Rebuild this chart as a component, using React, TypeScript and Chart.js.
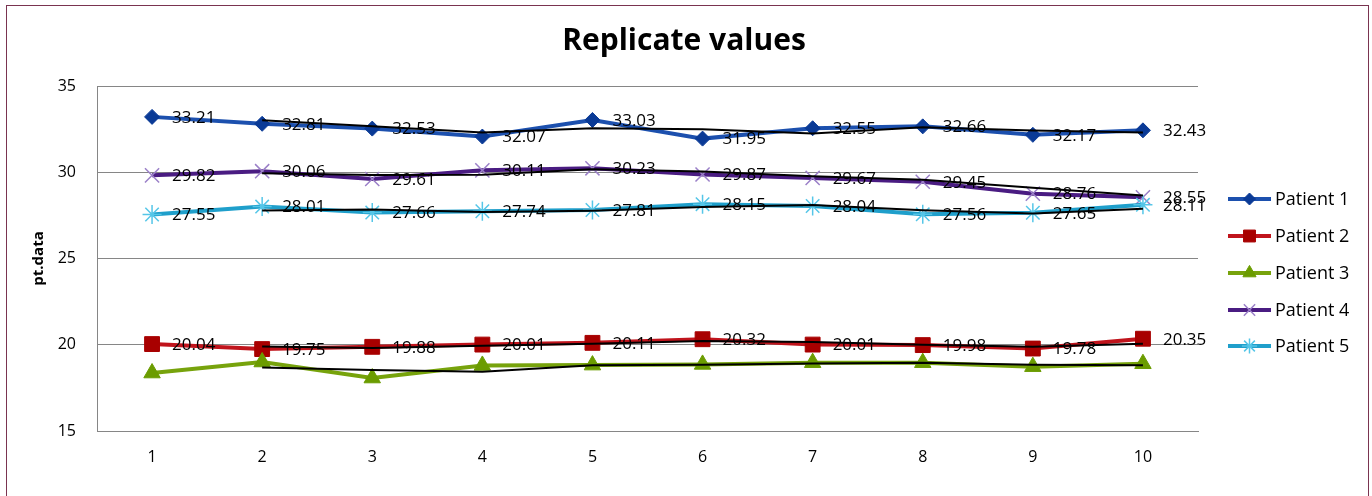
import React, { useEffect, useRef } from "react";
import { Chart, registerables } from "chart.js";
import { drawPoint } from "chart.js/helpers";

Chart.register(...registerables);

// ---------------- data ----------------
const categories = ["1", "2", "3", "4", "5", "6", "7", "8", "9", "10"];
const patient1 = [33.21, 32.81, 32.53, 32.07, 33.03, 31.95, 32.55, 32.66, 32.17, 32.43];
const patient2 = [20.04, 19.75, 19.88, 20.01, 20.11, 20.32, 20.01, 19.98, 19.78, 20.35];
const patient3 = [18.36, 19.0, 18.07, 18.8, 18.82, 18.86, 18.96, 18.96, 18.73, 18.9];
const patient4 = [29.82, 30.06, 29.61, 30.11, 30.23, 29.87, 29.67, 29.45, 28.76, 28.55];
const patient5 = [27.55, 28.01, 27.66, 27.74, 27.81, 28.15, 28.04, 27.56, 27.65, 28.11];
const seriesNames = ["Patient 1", "Patient 2", "Patient 3", "Patient 4", "Patient 5"];
const seriesValues = [patient1, patient2, patient3, patient4, patient5];
const seriesHasLabels = [true, true, false, true, true];
const yMin = 15;
const yMax = 35;
const yStep = 5;
const chartTitle = "Replicate values";
const yAxisTitle = "pt.data";

// ---------------- styles ----------------
const lineColors = ["#1c50ae", "#c0141c", "#77a30c", "#4a1c82", "#1f9fcb"];
const markerFill = ["#0a3a96", "#a80000", "#6b9c00", "#9b80c8", "#55c6e8"];
const markerStyles = ["rectRot", "rect", "triangle", "crossRot", "star"];
const markerRadius = [7.5, 10.5, 9.5, 10, 9.5];
const markerBorderW = [1, 1, 1, 1.5, 1.5];

// 2-period moving average trendline (like the Excel trendline)
function movingAverage(values: number[], period: number): (number | null)[] {
  return values.map((_, i) => {
    if (i < period - 1) return null;
    let s = 0;
    for (let k = i - period + 1; k <= i; k++) s += values[k];
    return s / period;
  });
}

const FONT = '"Open Sans", "DejaVu Sans", sans-serif';

const decorPlugin = {
  id: "decor",
  afterDatasetsDraw(chart: any) {
    const ctx = chart.ctx;
    ctx.save();
    ctx.font = `17px ${FONT}`;
    ctx.fillStyle = "#000";
    ctx.textAlign = "left";
    ctx.textBaseline = "middle";
    chart.data.datasets.forEach((ds: any, i: number) => {
      if (!ds.showValueLabels) return;
      const meta = chart.getDatasetMeta(i);
      meta.data.forEach((pt: any, j: number) => {
        const v = ds.data[j];
        if (v == null) return;
        ctx.fillText(Number(v).toFixed(2), pt.x + 20, pt.y + 1);
      });
    });
    ctx.restore();
  },
  afterDraw(chart: any) {
    const ctx = chart.ctx;
    ctx.save();
    // title
    ctx.font = `bold 30px ${FONT}`;
    ctx.fillStyle = "#000";
    ctx.textAlign = "center";
    ctx.textBaseline = "alphabetic";
    ctx.fillText(chartTitle, 684, 50);
    // legend
    const x0 = 1228;
    const x1 = 1271;
    const ys = [199, 236, 273, 310, 346];
    seriesNames.forEach((name, i) => {
      const y = ys[i];
      ctx.strokeStyle = lineColors[i];
      ctx.lineWidth = 4;
      ctx.lineCap = "butt";
      ctx.beginPath();
      ctx.moveTo(x0, y);
      ctx.lineTo(x1, y);
      ctx.stroke();
      ctx.fillStyle = markerFill[i];
      ctx.strokeStyle = markerFill[i];
      ctx.lineWidth = markerBorderW[i];
      drawPoint(
        ctx,
        { pointStyle: markerStyles[i], radius: markerRadius[i] * 0.8, rotation: 0, borderWidth: markerBorderW[i] },
        (x0 + x1) / 2,
        y
      );
      ctx.fillStyle = "#000";
      ctx.font = `18px ${FONT}`;
      ctx.textAlign = "left";
      ctx.textBaseline = "middle";
      ctx.fillText(name, 1275, y + 1);
    });
    ctx.restore();
  },
};

export default function App() {
  const canvasRef = useRef<HTMLCanvasElement | null>(null);

  useEffect(() => {
    document.body.style.margin = "0";
    const canvas = canvasRef.current;
    if (!canvas) return;
    Chart.defaults.font.family = FONT;

    const mainSets = seriesValues.map((vals, i) => ({
      label: seriesNames[i],
      data: vals,
      borderColor: lineColors[i],
      backgroundColor: markerFill[i],
      borderWidth: 4,
      pointStyle: markerStyles[i],
      pointRadius: markerRadius[i],
      pointBackgroundColor: markerFill[i],
      pointBorderColor: markerFill[i],
      pointBorderWidth: markerBorderW[i],
      tension: 0,
      fill: false,
      order: 10 - i,
      showValueLabels: seriesHasLabels[i],
    }));
    const trendSets = seriesValues.map((vals, i) => ({
      label: "",
      data: movingAverage(vals, 2),
      borderColor: "#000000",
      borderWidth: 2,
      pointRadius: 0,
      tension: 0,
      fill: false,
      spanGaps: false,
      order: -1 - i,
      showValueLabels: false,
    }));

    const chart = new Chart(canvas, {
      type: "line",
      data: { labels: categories, datasets: [...mainSets, ...trendSets] as any },
      options: {
        responsive: false,
        animation: false,
        devicePixelRatio: 1,
        layout: { padding: { left: 30, right: 174, top: 86, bottom: 25 } },
        plugins: {
          legend: { display: false },
          title: { display: false },
          tooltip: { enabled: false },
        },
        scales: {
          x: {
            type: "category",
            offset: true,
            grid: { display: false, drawTicks: false },
            border: { display: true, color: "#868686", width: 1 },
            ticks: { padding: 17, color: "#000", font: { size: 16 } },
            afterFit: (s: any) => {
              s.height = 40;
            },
          },
          y: {
            min: yMin,
            max: yMax,
            ticks: { stepSize: yStep, padding: 21, color: "#000", font: { size: 16 } },
            grid: { color: "#868686", lineWidth: 1, drawTicks: false },
            border: { display: true, color: "#868686", width: 1 },
            title: {
              display: true,
              text: yAxisTitle,
              color: "#000",
              font: { size: 15, weight: "bold" },
              padding: 0,
            },
            afterFit: (s: any) => {
              s.width = 67;
            },
          },
        },
      } as any,
      plugins: [decorPlugin],
    });
    return () => chart.destroy();
  }, []);

  return (
    <div style={{ position: "relative", width: 1372, height: 496, overflow: "hidden", background: "#fff" }}>
      <canvas ref={canvasRef} width={1372} height={496} style={{ position: "absolute", left: 0, top: 0 }} />
      <div
        style={{
          position: "absolute",
          left: 6,
          top: 5,
          width: 1361,
          height: 600,
          border: "1px solid #7a3450",
          pointerEvents: "none",
        }}
      />
    </div>
  );
}
